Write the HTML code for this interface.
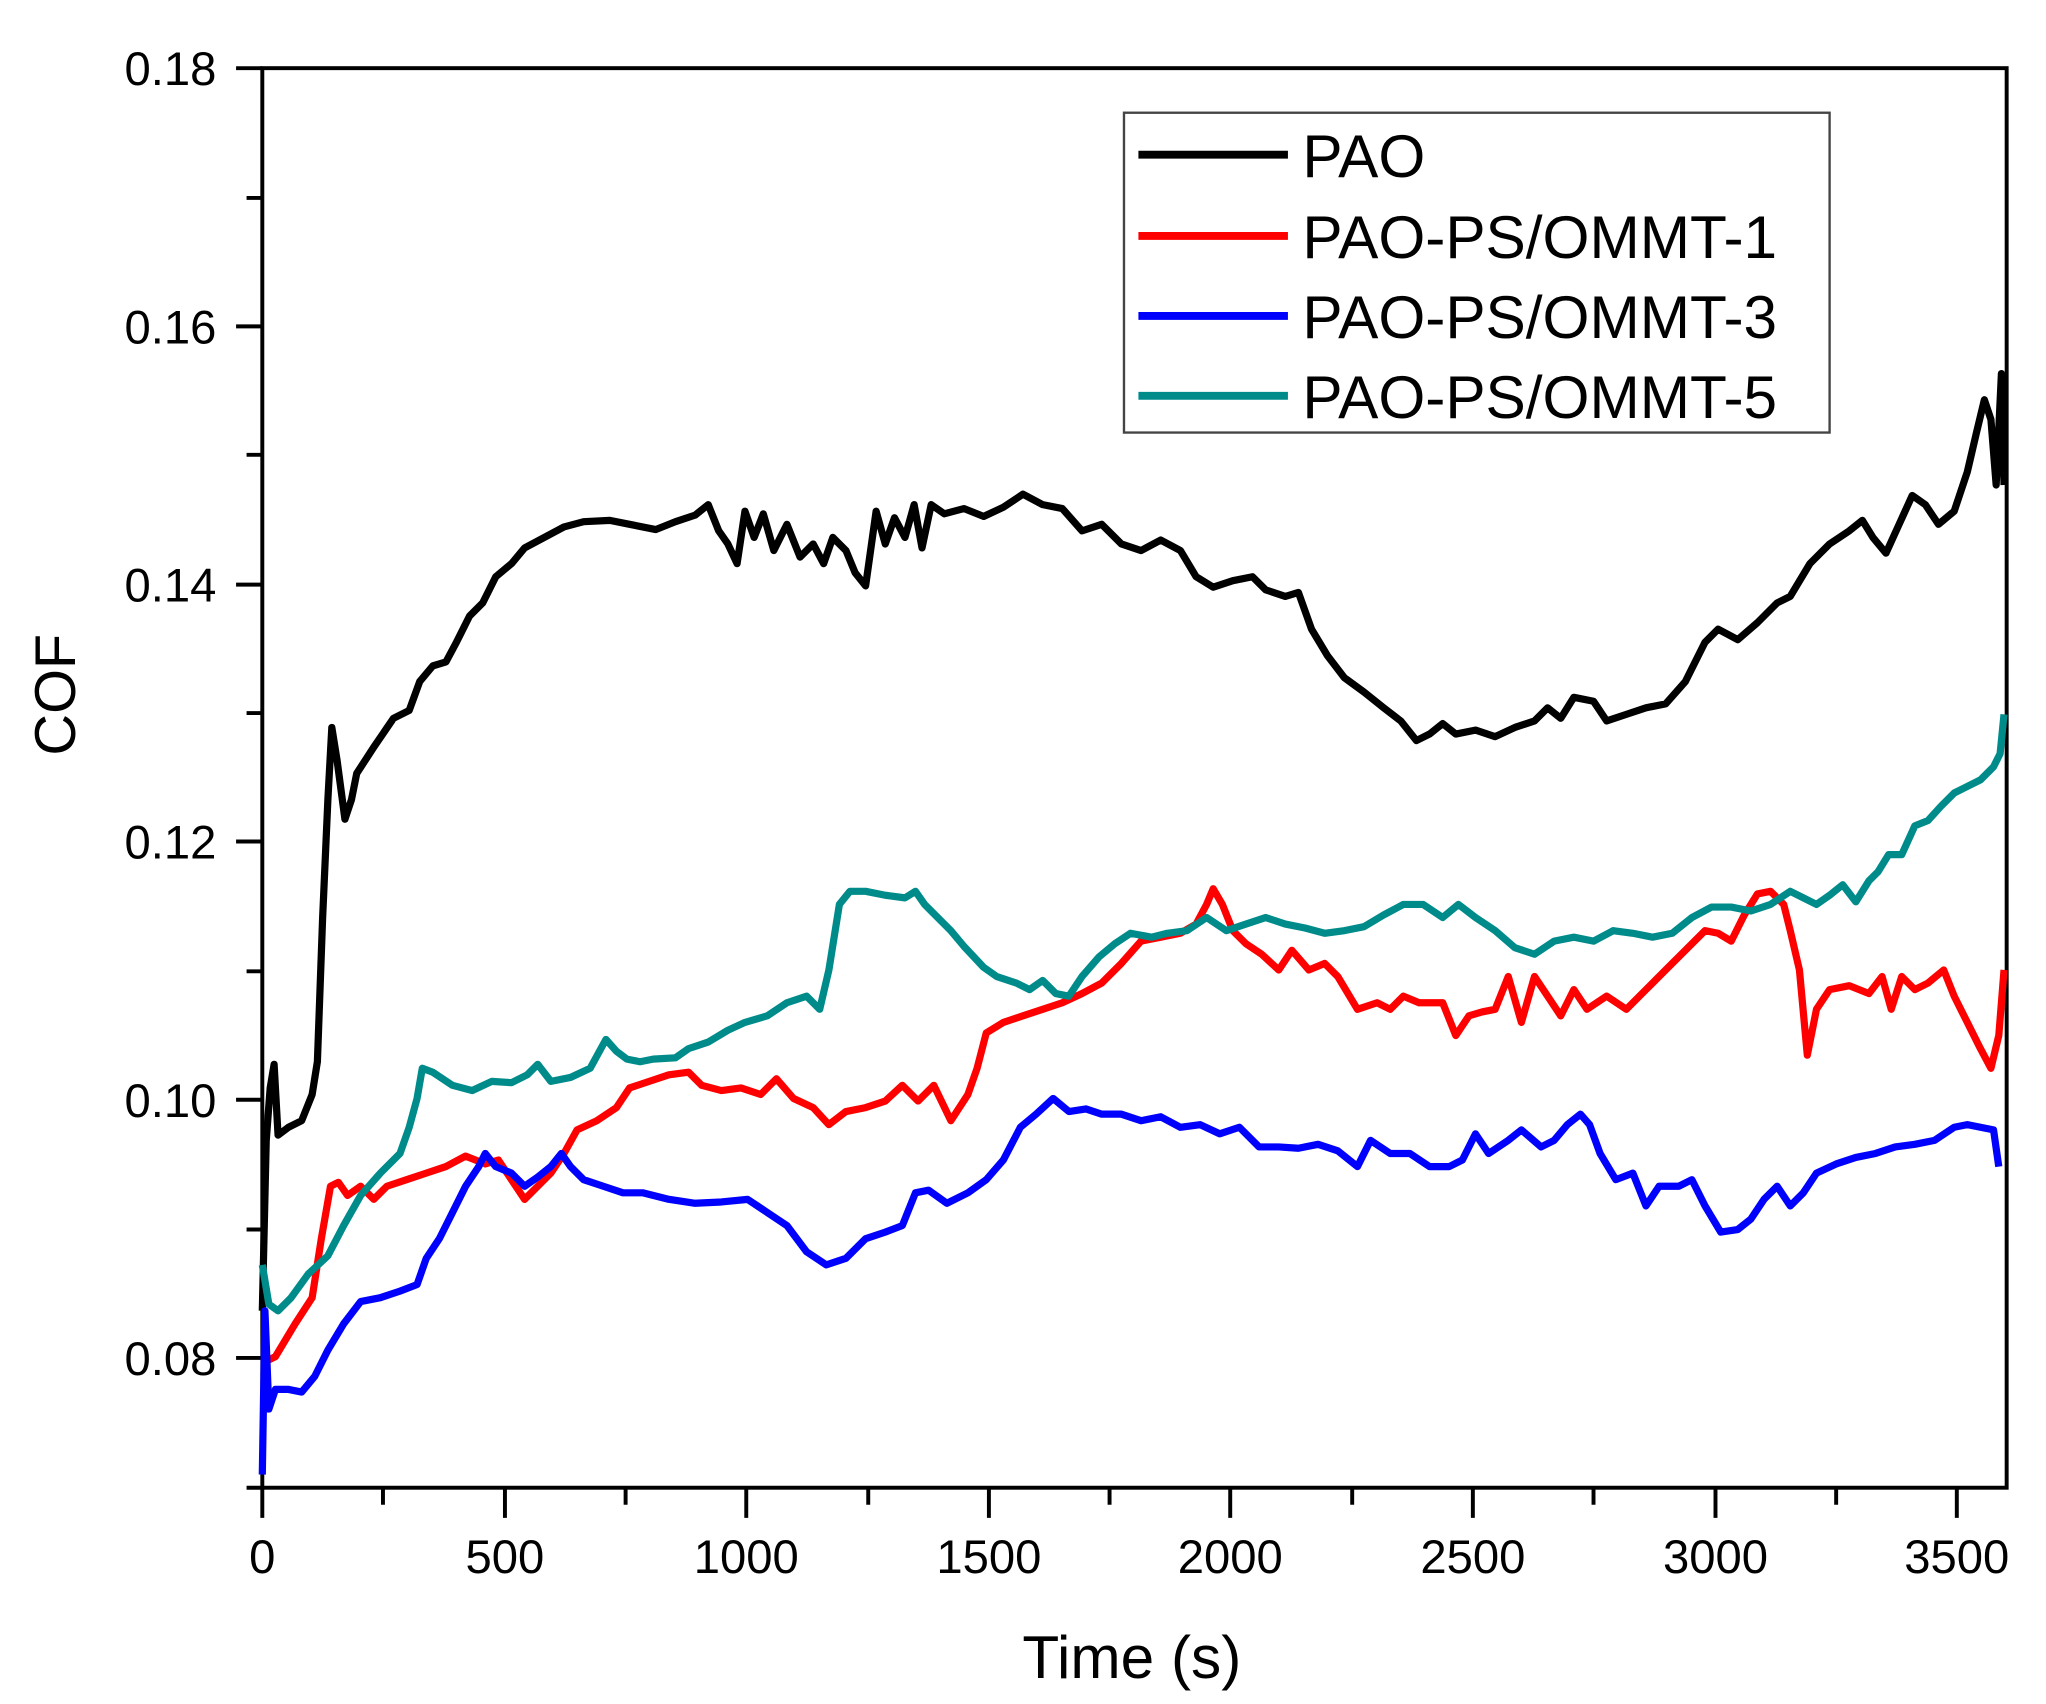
<!DOCTYPE html>
<html><head><meta charset="utf-8"><style>html,body{margin:0;padding:0;background:#fff}svg{display:block}</style></head>
<body>
<svg width="2046" height="1704" viewBox="0 0 1560 1300" preserveAspectRatio="none" xmlns="http://www.w3.org/2000/svg" font-family="Liberation Sans, sans-serif">
<rect width="1560" height="1300" fill="#fff"/>
<g stroke="#000" stroke-width="3" fill="none">
<rect x="200" y="52" width="1330" height="1083"/>
<path d="M180 52H200M188 151H200M180 249H200M188 347H200M180 446H200M188 544H200M180 642H200M188 741H200M180 839H200M188 938H200M180 1036H200M188 1135H200"/>
<path d="M200 1135V1158M292 1135V1148M385 1135V1158M477 1135V1148M569 1135V1158M662 1135V1148M754 1135V1158M846 1135V1148M938 1135V1158M1031 1135V1148M1123 1135V1158M1215 1135V1148M1308 1135V1158M1400 1135V1148M1492 1135V1158"/>
</g>
<g font-size="36" text-anchor="end" fill="#000">
<text x="165" y="65">0.18</text><text x="165" y="262">0.16</text><text x="165" y="459">0.14</text><text x="165" y="655">0.12</text><text x="165" y="852">0.10</text><text x="165" y="1049">0.08</text>
</g>
<g font-size="36" text-anchor="middle" fill="#000">
<text x="200" y="1200">0</text><text x="385" y="1200">500</text><text x="569" y="1200">1000</text><text x="754" y="1200">1500</text><text x="938" y="1200">2000</text><text x="1123" y="1200">2500</text><text x="1308" y="1200">3000</text><text x="1492" y="1200">3500</text>
</g>
<text x="863" y="1280" font-size="46" text-anchor="middle">Time (s)</text>
<text transform="translate(57,530) rotate(-90)" font-size="44" text-anchor="middle">COF</text>
<g fill="none" stroke-width="5.5" stroke-linejoin="round">
<polyline stroke="#000" points="200,1000 203,870 206,830 209,812 212,866 220,860 230,855 238,835 242,810 246,700 250,610 253,555 257,580 263,625 268,610 272,590 285,570 300,548 312,542 320,520 330,508 340,505 348,490 358,470 368,460 378,440 390,430 400,418 415,410 430,402 445,398 465,397 480,400 500,404 515,398 530,393 540,385 548,405 555,415 562,430 568,390 575,410 582,392 590,420 600,400 610,425 620,415 628,430 635,410 645,420 652,437 660,447 668,390 675,415 682,395 690,410 697,385 703,418 710,385 720,392 735,388 750,394 765,387 780,377 795,385 810,388 825,405 840,400 855,415 870,420 885,412 900,420 912,440 925,448 940,443 955,440 965,450 980,455 990,452 1000,480 1012,500 1025,517 1040,528 1055,540 1068,550 1080,565 1090,560 1100,552 1110,560 1125,557 1140,562 1155,555 1170,550 1180,540 1190,548 1200,532 1215,535 1225,550 1240,545 1255,540 1270,537 1285,520 1300,490 1310,480 1325,488 1340,475 1355,460 1365,455 1380,430 1395,415 1410,405 1420,397 1428,410 1438,422 1448,400 1458,378 1468,385 1478,400 1490,390 1500,360 1507,330 1513,305 1518,320 1522,370 1526,285 1528,370"/>
<polyline stroke="#f00" points="200,1040 210,1035 225,1010 238,990 245,945 252,905 258,902 265,912 275,905 285,915 295,905 310,900 325,895 340,890 355,882 370,888 380,885 390,900 400,915 410,905 420,895 430,880 440,862 455,855 470,845 480,830 495,825 510,820 525,818 535,828 550,832 565,830 580,835 592,823 605,838 620,845 632,858 645,848 660,845 675,840 688,828 700,840 712,828 725,855 738,835 745,815 752,788 765,780 780,775 795,770 810,765 825,758 840,750 855,735 870,718 885,715 900,712 912,705 920,690 925,678 932,690 940,710 950,720 962,728 975,740 985,725 998,740 1010,735 1020,745 1035,770 1050,765 1060,770 1070,760 1082,765 1090,765 1100,765 1110,790 1120,775 1130,772 1140,770 1150,745 1160,780 1170,745 1180,760 1190,775 1200,755 1210,770 1225,760 1240,770 1255,755 1270,740 1285,725 1300,710 1310,712 1320,718 1330,698 1340,682 1350,680 1360,690 1365,710 1372,740 1378,805 1385,770 1395,755 1410,752 1425,758 1435,745 1442,770 1450,745 1460,755 1470,750 1482,740 1490,760 1500,780 1510,800 1518,815 1524,790 1528,740"/>
<polyline stroke="#00f" points="200,1125 202,1000 205,1075 210,1060 220,1060 230,1062 240,1050 250,1030 262,1010 275,993 290,990 305,985 318,980 325,960 335,945 345,925 355,905 365,890 370,880 378,890 390,895 400,905 410,898 420,890 428,880 435,890 445,900 460,905 475,910 490,910 510,915 530,918 550,917 570,915 585,925 600,935 615,955 630,965 645,960 660,945 675,940 688,935 698,910 708,908 722,918 738,910 752,900 765,885 778,860 790,850 803,838 815,848 828,846 840,850 855,850 870,855 885,852 900,860 915,858 930,865 945,860 960,875 975,875 990,876 1005,873 1020,878 1035,890 1045,870 1060,880 1075,880 1090,890 1105,890 1115,885 1125,865 1135,880 1150,870 1160,862 1175,875 1185,870 1195,858 1205,850 1212,858 1220,880 1232,900 1245,895 1255,920 1265,905 1280,905 1290,900 1300,920 1312,940 1325,938 1335,930 1345,915 1355,905 1365,920 1375,910 1385,895 1400,888 1415,883 1430,880 1445,875 1460,873 1475,870 1490,860 1500,858 1510,860 1520,862 1524,890"/>
<polyline stroke="#008b8b" points="200,965 205,995 212,1000 222,990 235,972 250,958 262,935 275,912 290,895 305,880 312,860 318,838 322,815 330,818 345,828 360,832 375,825 390,826 402,820 410,812 420,825 435,822 450,815 462,793 470,802 478,808 488,810 498,808 515,807 525,800 540,795 555,786 568,780 585,775 600,765 615,760 625,770 632,740 640,690 648,680 660,680 675,683 690,685 698,680 705,690 715,700 725,710 735,722 750,738 760,745 775,750 785,755 795,748 805,758 815,760 825,745 838,730 850,720 862,712 878,715 890,712 905,710 920,700 935,710 950,705 965,700 980,705 995,708 1010,712 1025,710 1040,707 1055,698 1070,690 1085,690 1100,700 1112,690 1125,700 1140,710 1155,723 1170,728 1185,718 1200,715 1215,718 1230,710 1245,712 1260,715 1275,712 1290,700 1305,692 1320,692 1335,695 1350,690 1365,680 1375,685 1385,690 1395,683 1405,675 1415,688 1425,672 1432,665 1440,652 1450,652 1460,630 1470,626 1480,615 1490,605 1500,600 1510,595 1520,585 1525,575 1528,545"/>
</g>
<rect x="857" y="86" width="538" height="244" fill="#fff" stroke="#444" stroke-width="1.8"/>
<g stroke-width="6">
<line x1="868" y1="118" x2="982" y2="118" stroke="#000"/>
<line x1="868" y1="180" x2="982" y2="180" stroke="#f00"/>
<line x1="868" y1="241" x2="982" y2="241" stroke="#00f"/>
<line x1="868" y1="302" x2="982" y2="302" stroke="#008b8b"/>
</g>
<g font-size="46" fill="#000">
<text x="993" y="135">PAO</text><text x="993" y="197">PAO-PS/OMMT-1</text><text x="993" y="258">PAO-PS/OMMT-3</text><text x="993" y="319">PAO-PS/OMMT-5</text>
</g>
</svg>
</body></html>
